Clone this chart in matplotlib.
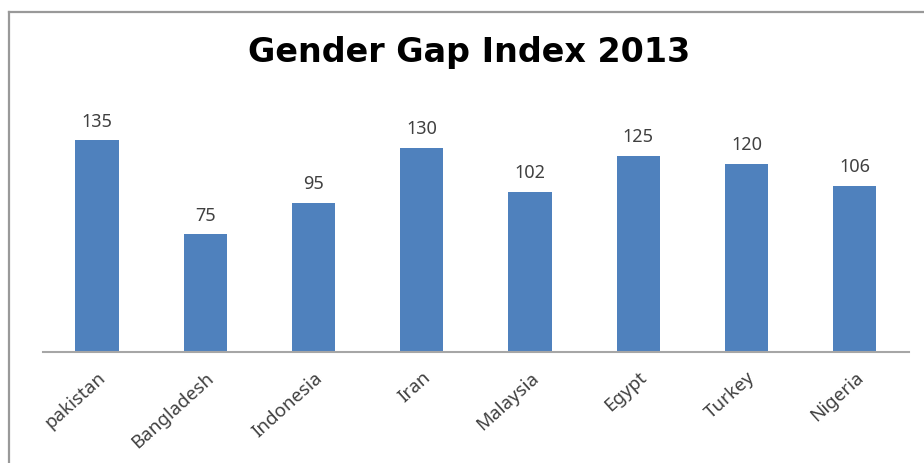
import matplotlib.pyplot as plt
from matplotlib.lines import Line2D

countries = ['pakistan', 'Bangladesh', 'Indonesia', 'Iran', 'Malaysia', 'Egypt', 'Turkey', 'Nigeria']
ranks = [135, 75, 95, 130, 102, 125, 120, 106]

plt.rcParams['font.family'] = ['Noto Sans', 'DejaVu Sans']

fig = plt.figure(figsize=(9.24, 4.63), dpi=100)
ax = fig.add_axes([0.0465, 0.2397, 0.937, 0.542])

x = range(len(countries))
bars = ax.bar(x, ranks, width=0.4, color='#4F81BD')
ax.set_xlim(-0.5, len(countries) - 0.5)
ax.set_ylim(0, 160)

for xi, v in zip(x, ranks):
    ax.annotate(str(v), (xi, v), xytext=(0, 7), textcoords='offset points',
                ha='center', va='bottom', fontsize=13, color='#404040')

ax.set_xticks(list(x))
ax.set_xticklabels(countries, rotation=42, ha='right', rotation_mode='anchor',
                   fontsize=13.5, color='#404040')
ax.tick_params(axis='x', length=0, pad=12)
ax.set_yticks([])
for s in ['top', 'right', 'left']:
    ax.spines[s].set_visible(False)
ax.spines['bottom'].set_color('#A6A6A6')
ax.spines['bottom'].set_linewidth(1.5)

fig.text(0.508, 0.887, 'Gender Gap Index 2013', ha='center', va='center',
         fontsize=24, fontweight='bold', color='black', family='DejaVu Sans')

# chart frame (only top and left visible in the crop)
fig.add_artist(Line2D([0.0097, 1.0], [0.974, 0.974], color='#999999', lw=1.6))
fig.add_artist(Line2D([0.0097, 0.0097], [0.0, 0.974], color='#999999', lw=1.6))

fig.savefig('out.png', dpi=100)
